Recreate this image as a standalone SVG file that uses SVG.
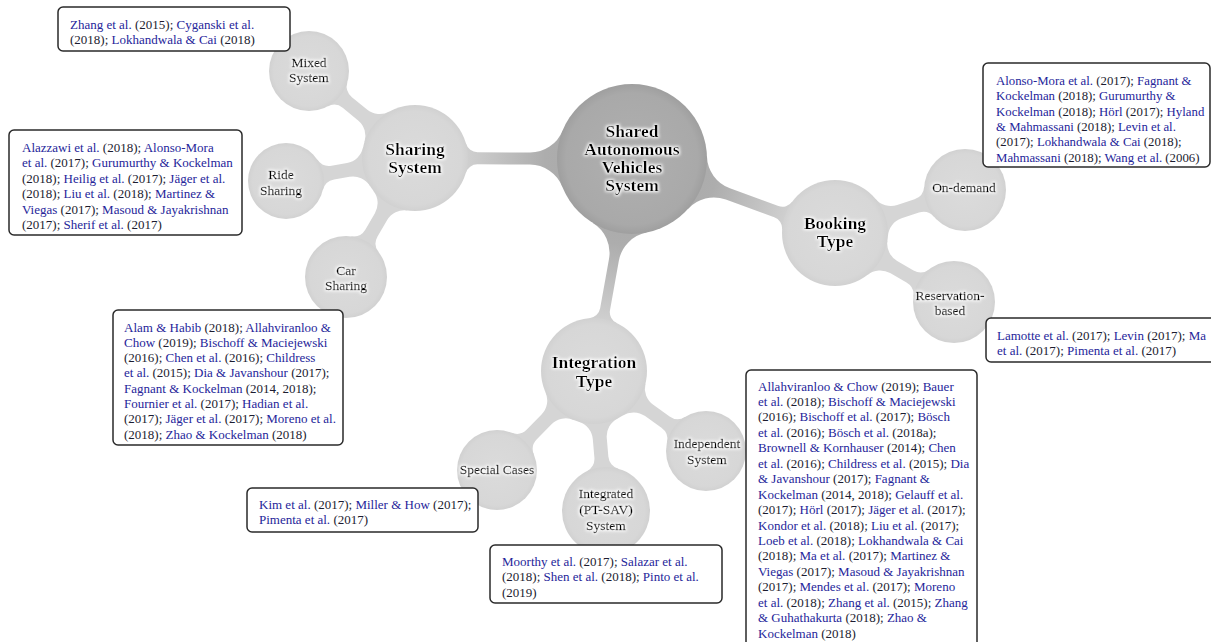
<svg xmlns="http://www.w3.org/2000/svg" width="1211" height="642" viewBox="0 0 1211 642">
<defs>
<style>
.lk{fill:#d5d5d5;}
.lm{fill:url(#gm);}
.cl{fill:url(#gl);}
.cd{fill:url(#gd);}
.lab{font-family:"Liberation Serif","Times New Roman",serif;font-size:13.5px;fill:#000;stroke:#000;stroke-width:0.3px;text-anchor:middle;filter:url(#glow);}
.big{font-family:"Liberation Serif","Times New Roman",serif;font-size:17.5px;font-weight:bold;fill:#000;text-anchor:middle;filter:url(#glow);}
.box{fill:#fff;stroke:#2a2a2a;stroke-width:1.5;}
.cit{font-family:"Liberation Serif","Times New Roman",serif;font-size:13px;fill:#25259a;}
.k{fill:#1c1c30;}
</style>
<linearGradient id="gm" x1="0" y1="0" x2="1" y2="0">
<stop offset="0" stop-color="#a6a6a6"/>
<stop offset="0.4" stop-color="#adadad"/>
<stop offset="0.8" stop-color="#d3d3d3"/>
<stop offset="1" stop-color="#d6d6d6"/>
</linearGradient>
<radialGradient id="gl" cx="0.5" cy="0.5" r="0.5">
<stop offset="0" stop-color="#dbdbdb"/>
<stop offset="0.88" stop-color="#d7d7d7"/>
<stop offset="1" stop-color="#d1d1d1"/>
</radialGradient>
<radialGradient id="gd" cx="0.5" cy="0.5" r="0.5">
<stop offset="0" stop-color="#b0b0b0"/>
<stop offset="0.88" stop-color="#a9a9a9"/>
<stop offset="1" stop-color="#9f9f9f"/>
</radialGradient>
<filter id="glow" x="-20%" y="-50%" width="140%" height="200%">
<feMorphology in="SourceAlpha" operator="dilate" radius="1" result="d"/>
<feGaussianBlur in="d" stdDeviation="1.5" result="b"/>
<feFlood flood-color="#ffffff"/>
<feComposite in2="b" operator="in" result="g"/>
<feMerge><feMergeNode in="g"/><feMergeNode in="SourceGraphic"/></feMerge>
</filter>
</defs>

<g id="connectors">
<path class="lm" transform="translate(632,159) rotate(180.26)" d="M0,0 L69.6,-27.95 A35,35 0 0 0 102.07,-6 L154.54,-6 A12,12 0 0 0 166.07,-14.68 L217,0 L166.07,14.68 A12,12 0 0 0 154.54,6 L102.07,6 A35,35 0 0 0 69.6,27.95 Z"/>
<path class="lm" transform="translate(632,159) rotate(20.03)" d="M0,0 L69.6,-27.95 A35,35 0 0 0 102.07,-6 L153.61,-6 A12,12 0 0 0 165.14,-14.68 L216.07,0 L165.14,14.68 A12,12 0 0 0 153.61,6 L102.07,6 A35,35 0 0 0 69.6,27.95 Z"/>
<path class="lm" transform="translate(632,159) rotate(100.16)" d="M0,0 L69.87,-27.27 A35,35 0 0 0 102.47,-5 L152.64,-5 A12,12 0 0 0 164.22,-13.86 L215.38,0 L164.22,13.86 A12,12 0 0 0 152.64,5 L102.47,5 A35,35 0 0 0 69.87,27.27 Z"/>
<path class="lk" transform="translate(415,158) rotate(-140.62)" d="M0,0 L49.24,-19.6 A20,20 0 0 0 67.82,-7 L87.38,-7 A14,14 0 0 0 100.28,-15.56 L137.13,0 L100.28,15.56 A14,14 0 0 0 87.38,7 L67.82,7 A20,20 0 0 0 49.24,19.6 Z"/>
<path class="lk" transform="translate(415,158) rotate(169.89)" d="M0,0 L49.24,-19.6 A20,20 0 0 0 67.82,-7 L83.46,-7 A14,14 0 0 0 96.27,-15.35 L131.03,0 L96.27,15.35 A14,14 0 0 0 83.46,7 L67.82,7 A20,20 0 0 0 49.24,19.6 Z"/>
<path class="lk" transform="translate(415,158) rotate(120.11)" d="M0,0 L49.24,-19.6 A20,20 0 0 0 67.82,-7 L86.73,-7 A14,14 0 0 0 99.67,-15.65 L137.56,0 L99.67,15.65 A14,14 0 0 0 86.73,7 L67.82,7 A20,20 0 0 0 49.24,19.6 Z"/>
<path class="lk" transform="translate(835,233) rotate(-18.3)" d="M0,0 L49.24,-19.6 A20,20 0 0 0 67.82,-7 L86.1,-7 A14,14 0 0 0 99.04,-15.65 L136.93,0 L99.04,15.65 A14,14 0 0 0 86.1,7 L67.82,7 A20,20 0 0 0 49.24,19.6 Z"/>
<path class="lk" transform="translate(835,233) rotate(30.11)" d="M0,0 L49.24,-19.6 A20,20 0 0 0 67.82,-7 L86.73,-7 A14,14 0 0 0 99.67,-15.65 L137.56,0 L99.67,15.65 A14,14 0 0 0 86.73,7 L67.82,7 A20,20 0 0 0 49.24,19.6 Z"/>
<path class="lk" transform="translate(594,371) rotate(134.41)" d="M0,0 L49.24,-19.6 A20,20 0 0 0 67.82,-7 L88.85,-7 A14,14 0 0 0 101.75,-15.56 L138.6,0 L101.75,15.56 A14,14 0 0 0 88.85,7 L67.82,7 A20,20 0 0 0 49.24,19.6 Z"/>
<path class="lk" transform="translate(594,371) rotate(85.1)" d="M0,0 L49.24,-19.6 A20,20 0 0 0 67.82,-7 L86.45,-7 A14,14 0 0 0 99.5,-15.93 L140.51,0 L99.5,15.93 A14,14 0 0 0 86.45,7 L67.82,7 A20,20 0 0 0 49.24,19.6 Z"/>
<path class="lk" transform="translate(594,371) rotate(35.54)" d="M0,0 L49.24,-19.6 A20,20 0 0 0 67.82,-7 L87.89,-7 A14,14 0 0 0 100.79,-15.56 L137.64,0 L100.79,15.56 A14,14 0 0 0 87.89,7 L67.82,7 A20,20 0 0 0 49.24,19.6 Z"/>
</g>

<g id="node-central">
<circle class="cd" cx="632" cy="159" r="75"/>
<text class="big"><tspan x="632" y="137">Shared</tspan><tspan x="632" y="155">Autonomous</tspan><tspan x="632" y="173">Vehicles</tspan><tspan x="632" y="191">System</tspan></text>
</g>
<g id="node-sharing">
<circle class="cl" cx="415" cy="158" r="53"/>
<text class="big"><tspan x="415" y="155">Sharing</tspan><tspan x="415" y="173">System</tspan></text>
</g>
<g id="node-mixed">
<circle class="cl" cx="309" cy="71" r="40"/>
<text class="lab"><tspan x="309" y="67">Mixed</tspan><tspan x="309" y="82">System</tspan></text>
</g>
<g id="node-ride">
<circle class="cl" cx="286" cy="181" r="38"/>
<text class="lab"><tspan x="281" y="179">Ride</tspan><tspan x="281" y="195">Sharing</tspan></text>
</g>
<g id="node-car">
<circle class="cl" cx="346" cy="277" r="41"/>
<text class="lab"><tspan x="346" y="275">Car</tspan><tspan x="346" y="290">Sharing</tspan></text>
</g>
<g id="node-booking">
<circle class="cl" cx="835" cy="233" r="53"/>
<text class="big"><tspan x="835" y="229">Booking</tspan><tspan x="835" y="247">Type</tspan></text>
</g>
<g id="node-ondemand">
<circle class="cl" cx="965" cy="190" r="41"/>
<text class="lab" x="964" y="192">On-demand</text>
</g>
<g id="node-reservation">
<circle class="cl" cx="954" cy="302" r="41"/>
<text class="lab"><tspan x="950" y="300">Reservation-</tspan><tspan x="950" y="315">based</tspan></text>
</g>
<g id="node-integration">
<circle class="cl" cx="594" cy="371" r="53"/>
<text class="big"><tspan x="594" y="368">Integration</tspan><tspan x="594" y="387">Type</tspan></text>
</g>
<g id="node-special">
<circle class="cl" cx="497" cy="470" r="40"/>
<text class="lab" x="497" y="474">Special Cases</text>
</g>
<g id="node-integrated">
<circle class="cl" cx="606" cy="511" r="44"/>
<text class="lab"><tspan x="606" y="498">Integrated</tspan><tspan x="606" y="514">(PT-SAV)</tspan><tspan x="606" y="530">System</tspan></text>
</g>
<g id="node-independent">
<circle class="cl" cx="706" cy="451" r="40"/>
<text class="lab"><tspan x="707" y="448">Independent</tspan><tspan x="707" y="464">System</tspan></text>
</g>

<g id="refs-mixed">
<rect class="box" x="58" y="7" width="232" height="44" rx="5"/>
<text class="cit"><tspan x="70" y="28.5">Zhang et al. <tspan class="k">(2015);</tspan> Cyganski et al.</tspan><tspan x="70" y="44"><tspan class="k">(2018);</tspan> Lokhandwala &amp; Cai <tspan class="k">(2018)</tspan></tspan></text>
</g>
<g id="refs-ride">
<rect class="box" x="9" y="130" width="233" height="105" rx="5"/>
<text class="cit">
<tspan x="22" y="151.5">Alazzawi et al. <tspan class="k">(2018);</tspan> Alonso-Mora</tspan>
<tspan x="22" y="167">et al. <tspan class="k">(2017);</tspan> Gurumurthy &amp; Kockelman</tspan>
<tspan x="22" y="182.5"><tspan class="k">(2018);</tspan> Heilig et al. <tspan class="k">(2017);</tspan> Jäger et al.</tspan>
<tspan x="22" y="198"><tspan class="k">(2018);</tspan> Liu et al. <tspan class="k">(2018);</tspan> Martinez &amp;</tspan>
<tspan x="22" y="213.5">Viegas <tspan class="k">(2017);</tspan> Masoud &amp; Jayakrishnan</tspan>
<tspan x="22" y="229"><tspan class="k">(2017);</tspan> Sherif et al. <tspan class="k">(2017)</tspan></tspan>
</text>
</g>
<g id="refs-car">
<rect class="box" x="113" y="310" width="230" height="135" rx="5"/>
<text class="cit">
<tspan x="124" y="331.5">Alam &amp; Habib <tspan class="k">(2018);</tspan> Allahviranloo &amp;</tspan>
<tspan x="124" y="346.8">Chow <tspan class="k">(2019);</tspan> Bischoff &amp; Maciejewski</tspan>
<tspan x="124" y="362.1"><tspan class="k">(2016);</tspan> Chen et al. <tspan class="k">(2016);</tspan> Childress</tspan>
<tspan x="124" y="377.4">et al. <tspan class="k">(2015);</tspan> Dia &amp; Javanshour <tspan class="k">(2017);</tspan></tspan>
<tspan x="124" y="392.7">Fagnant &amp; Kockelman <tspan class="k">(2014, 2018);</tspan></tspan>
<tspan x="124" y="408">Fournier et al. <tspan class="k">(2017);</tspan> Hadian et al.</tspan>
<tspan x="124" y="423.3"><tspan class="k">(2017);</tspan> Jäger et al. <tspan class="k">(2017);</tspan> Moreno et al.</tspan>
<tspan x="124" y="438.6"><tspan class="k">(2018);</tspan> Zhao &amp; Kockelman <tspan class="k">(2018)</tspan></tspan>
</text>
</g>
<g id="refs-ondemand">
<rect class="box" x="983" y="63" width="227" height="104" rx="5"/>
<text class="cit" style="font-size:12.8px">
<tspan x="996" y="85">Alonso-Mora et al. <tspan class="k">(2017);</tspan> Fagnant &amp;</tspan>
<tspan x="996" y="100.3">Kockelman <tspan class="k">(2018);</tspan> Gurumurthy &amp;</tspan>
<tspan x="996" y="115.6">Kockelman <tspan class="k">(2018);</tspan> Hörl <tspan class="k">(2017);</tspan> Hyland</tspan>
<tspan x="996" y="130.9">&amp; Mahmassani <tspan class="k">(2018);</tspan> Levin et al.</tspan>
<tspan x="996" y="146.2"><tspan class="k">(2017);</tspan> Lokhandwala &amp; Cai <tspan class="k">(2018);</tspan></tspan>
<tspan x="996" y="161.5">Mahmassani <tspan class="k">(2018);</tspan> Wang et al. <tspan class="k">(2006)</tspan></tspan>
</text>
</g>
<g id="refs-reservation">
<rect class="box" x="986" y="318" width="232" height="44" rx="5"/>
<text class="cit">
<tspan x="997" y="339.5">Lamotte et al. <tspan class="k">(2017);</tspan> Levin <tspan class="k">(2017);</tspan> Ma</tspan>
<tspan x="997" y="355">et al. <tspan class="k">(2017);</tspan> Pimenta et al. <tspan class="k">(2017)</tspan></tspan>
</text>
</g>
<g id="refs-special">
<rect class="box" x="247" y="488" width="231" height="44" rx="5"/>
<text class="cit">
<tspan x="259" y="508.5">Kim et al. <tspan class="k">(2017);</tspan> Miller &amp; How <tspan class="k">(2017);</tspan></tspan>
<tspan x="259" y="524">Pimenta et al. <tspan class="k">(2017)</tspan></tspan>
</text>
</g>
<g id="refs-integrated">
<rect class="box" x="490" y="545" width="232" height="58" rx="5"/>
<text class="cit">
<tspan x="502" y="565.5">Moorthy et al. <tspan class="k">(2017);</tspan> Salazar et al.</tspan>
<tspan x="502" y="581"><tspan class="k">(2018);</tspan> Shen et al. <tspan class="k">(2018);</tspan> Pinto et al.</tspan>
<tspan x="502" y="596.5"><tspan class="k">(2019)</tspan></tspan>
</text>
</g>
<g id="refs-independent">
<rect class="box" x="746" y="370" width="231" height="285" rx="5"/>
<text class="cit">
<tspan x="758" y="390.5">Allahviranloo &amp; Chow <tspan class="k">(2019);</tspan> Bauer</tspan>
<tspan x="758" y="405.95">et al. <tspan class="k">(2018);</tspan> Bischoff &amp; Maciejewski</tspan>
<tspan x="758" y="421.4"><tspan class="k">(2016);</tspan> Bischoff et al. <tspan class="k">(2017);</tspan> Bösch</tspan>
<tspan x="758" y="436.85">et al. <tspan class="k">(2016);</tspan> Bösch et al. <tspan class="k">(2018a);</tspan></tspan>
<tspan x="758" y="452.3">Brownell &amp; Kornhauser <tspan class="k">(2014);</tspan> Chen</tspan>
<tspan x="758" y="467.75">et al. <tspan class="k">(2016);</tspan> Childress et al. <tspan class="k">(2015);</tspan> Dia</tspan>
<tspan x="758" y="483.2">&amp; Javanshour <tspan class="k">(2017);</tspan> Fagnant &amp;</tspan>
<tspan x="758" y="498.65">Kockelman <tspan class="k">(2014, 2018);</tspan> Gelauff et al.</tspan>
<tspan x="758" y="514.1"><tspan class="k">(2017);</tspan> Hörl <tspan class="k">(2017);</tspan> Jäger et al. <tspan class="k">(2017);</tspan></tspan>
<tspan x="758" y="529.55">Kondor et al. <tspan class="k">(2018);</tspan> Liu et al. <tspan class="k">(2017);</tspan></tspan>
<tspan x="758" y="545">Loeb et al. <tspan class="k">(2018);</tspan> Lokhandwala &amp; Cai</tspan>
<tspan x="758" y="560.45"><tspan class="k">(2018);</tspan> Ma et al. <tspan class="k">(2017);</tspan> Martinez &amp;</tspan>
<tspan x="758" y="575.9">Viegas <tspan class="k">(2017);</tspan> Masoud &amp; Jayakrishnan</tspan>
<tspan x="758" y="591.35"><tspan class="k">(2017);</tspan> Mendes et al. <tspan class="k">(2017);</tspan> Moreno</tspan>
<tspan x="758" y="606.8">et al. <tspan class="k">(2018);</tspan> Zhang et al. <tspan class="k">(2015);</tspan> Zhang</tspan>
<tspan x="758" y="622.25">&amp; Guhathakurta <tspan class="k">(2018);</tspan> Zhao &amp;</tspan>
<tspan x="758" y="637.7">Kockelman <tspan class="k">(2018)</tspan></tspan>
</text>
</g>
</svg>
